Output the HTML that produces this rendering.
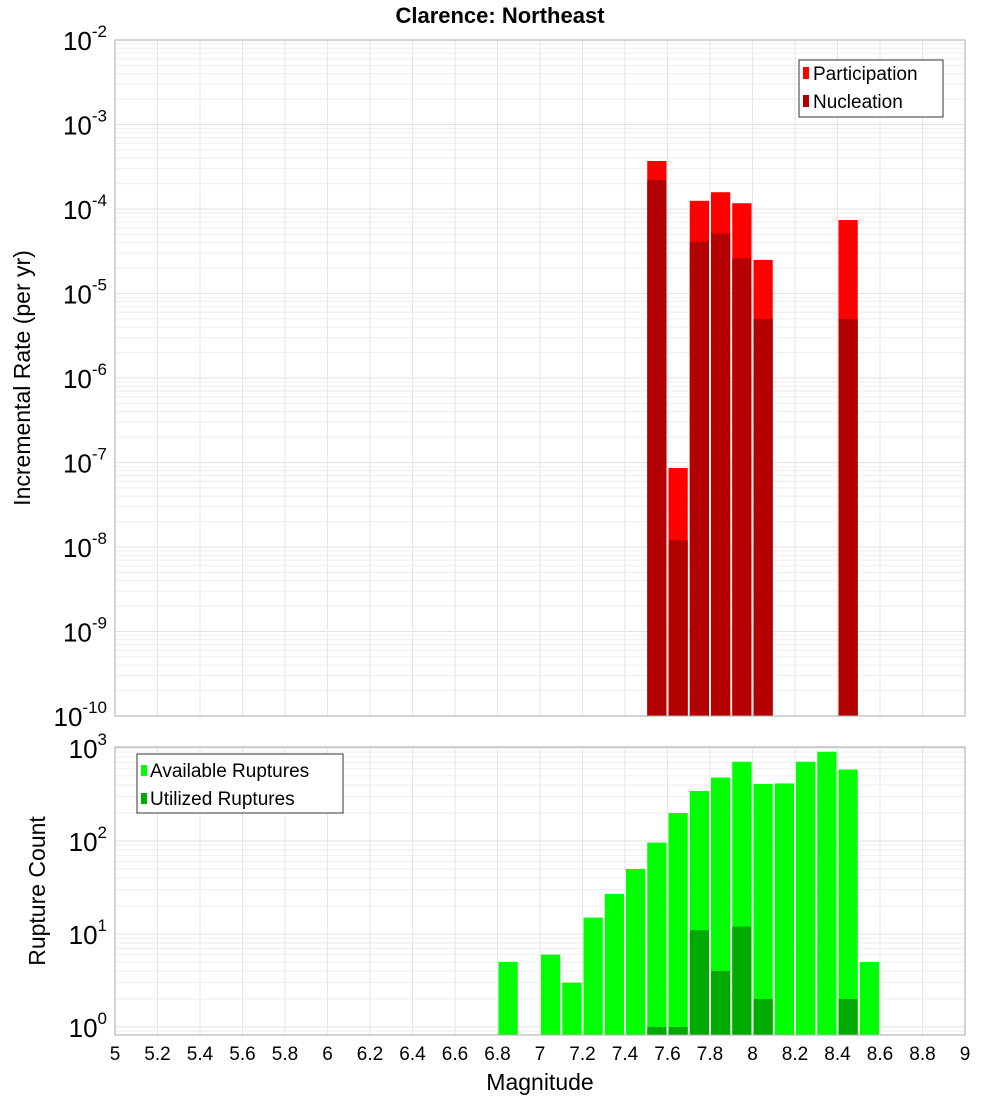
<!DOCTYPE html>
<html><head><meta charset="utf-8"><style>
body{margin:0;background:#fff;}
svg{display:block;font-family:"Liberation Sans","DejaVu Sans",sans-serif;}
</style></head><body>
<svg id="chart" width="1000" height="1100" xmlns="http://www.w3.org/2000/svg">
<text x="500" y="23" text-anchor="middle" font-size="22" font-weight="bold">Clarence: Northeast</text>
<g id="top"></g><g id="bot"></g><g id="xt"></g>
<text x="30" y="378" text-anchor="middle" font-size="23" transform="rotate(-90 30 378)">Incremental Rate (per yr)</text>
<text x="45" y="891" text-anchor="middle" font-size="23" transform="rotate(-90 45 891)">Rupture Count</text>
<text x="540" y="1090" text-anchor="middle" font-size="23">Magnitude</text>
<g>
<rect x="799" y="60" width="144" height="57" fill="#fff" stroke="#333"/>
<rect x="803" y="67" width="6" height="12" fill="#ff0000"/>
<text x="813" y="80" font-size="19">Participation</text>
<rect x="803" y="95" width="6" height="12" fill="#b30000"/>
<text x="813" y="108" font-size="19">Nucleation</text>
</g>
<g>
<rect x="137" y="754" width="206" height="59" fill="#fff" stroke="#333"/>
<rect x="141" y="765" width="6" height="11" fill="#00ff00"/>
<text x="150" y="777" font-size="19">Available Ruptures</text>
<rect x="141" y="793" width="6" height="11" fill="#00aa00"/>
<text x="150" y="805" font-size="19">Utilized Ruptures</text>
</g>
</svg>
<script>
const rateMags=[7.5,7.6,7.7,7.8,7.9,8.0,8.4];
const participation=[3.7e-4,8.6e-8,1.25e-4,1.58e-4,1.17e-4,2.5e-5,7.4e-5];
const nucleation=[2.2e-4,1.2e-8,4.1e-5,5.1e-5,2.6e-5,5.0e-6,5.0e-6];
const countMags=[6.8,7.0,7.1,7.2,7.3,7.4,7.5,7.6,7.7,7.8,7.9,8.0,8.1,8.2,8.3,8.4,8.5];
const available=[5,6,3,15,27,50,96,200,345,480,710,410,415,710,910,585,5];
const utilMags=[7.5,7.6,7.7,7.8,7.9,8.0,8.4];
const utilized=[1,1,11,4,12,2,2];
const xTicks=[5,5.2,5.4,5.6,5.8,6,6.2,6.4,6.6,6.8,7,7.2,7.4,7.6,7.8,8,8.2,8.4,8.6,8.8,9];
const topExps=[-10,-9,-8,-7,-6,-5,-4,-3,-2];
const botExps=[0,1,2,3];
const NS="http://www.w3.org/2000/svg";
const L=115,R=965;
const xS=m=>L+(m-5)*(R-L)/4;
const tT=40,tB=716,tMin=-10,tMax=-2;
const yT=v=>tB-(Math.log10(v)-tMin)*(tB-tT)/(tMax-tMin);
const bT=747,bB=1035,bMin=-0.086,bMax=3.01;
const yB=v=>bB-(Math.log10(v)-bMin)*(bB-bT)/(bMax-bMin);
function mk(p,tag,a){const e=document.createElementNS(NS,tag);for(const k in a)e.setAttribute(k,a[k]);p.appendChild(e);return e;}
function grid(g,top,bot,yf,lo,hi){
  for(let d=Math.floor(lo);d<=Math.ceil(hi);d++)for(let k=1;k<10;k++){const v=k*Math.pow(10,d);const lv=Math.log10(v);if(lv<lo||lv>hi)continue;
    const y=yf(v);const ln=mk(g,'line',{x1:L,x2:R,y1:y,y2:y,stroke:k==1?'#e2e2e2':'#eeeeee','stroke-width':1});
    }
  xTicks.forEach(t=>{const ln=mk(g,'line',{x1:xS(t),x2:xS(t),y1:top,y2:bot,stroke:'#e6e6e6'});
    });
}
function bar(g,m,v,yf,base,col,name){const x1=xS(m)+1,x2=xS(m+0.1)-1;const y=yf(v);
  const r=mk(g,'rect',{x:x1,y:y,width:x2-x1,height:base-y,fill:col});
  }
function ylab(g,e,y,name){const t=mk(g,'text',{x:L-8,y:y+10,'text-anchor':'end','font-size':26});
  
  t.textContent='10';const s=document.createElementNS(NS,'tspan');s.setAttribute('dy','-13');s.setAttribute('font-size','17');s.textContent=e;t.appendChild(s);}
const gt=document.getElementById('top');
grid(gt,tT,tB,yT,tMin,tMax);
rateMags.forEach((m,i)=>bar(gt,m,participation[i],yT,tB,'#ff0000','bar-participation'));
rateMags.forEach((m,i)=>bar(gt,m,nucleation[i],yT,tB,'#b30000','bar-nucleation'));
const ft=mk(gt,'rect',{x:L,y:tT,width:R-L,height:tB-tT,fill:'none',stroke:'#aaa'});

topExps.forEach(e=>ylab(gt,e,yT(Math.pow(10,e)),'top-y-tick-label'));
const gb=document.getElementById('bot');
grid(gb,bT,bB,yB,bMin,bMax);
countMags.forEach((m,i)=>bar(gb,m,available[i],yB,bB,'#00ff00','bar-available'));
utilMags.forEach((m,i)=>bar(gb,m,utilized[i],yB,bB,'#00aa00','bar-utilized'));
const fb=mk(gb,'rect',{x:L,y:bT,width:R-L,height:bB-bT,fill:'none',stroke:'#aaa'});

botExps.forEach(e=>ylab(gb,e,yB(Math.pow(10,e)),'bottom-y-tick-label'));
const gx=document.getElementById('xt');
xTicks.forEach(t=>{const tx=mk(gx,'text',{x:xS(t),y:1060,'text-anchor':'middle','font-size':19});
  tx.textContent=String(t);});
</script>
</body></html>
